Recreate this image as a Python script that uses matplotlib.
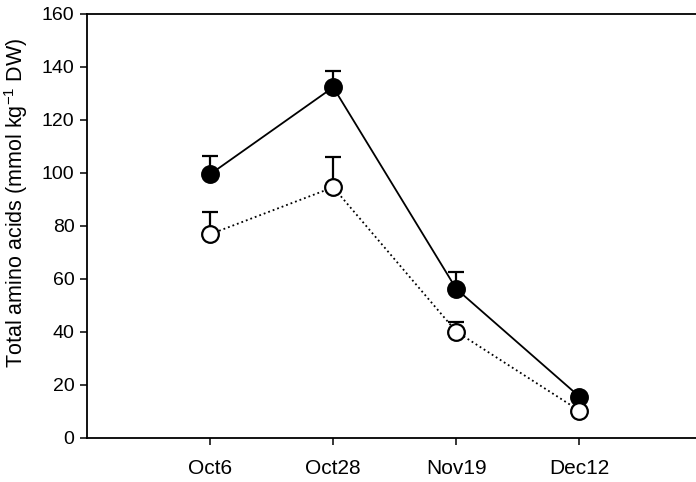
import matplotlib
matplotlib.use("Agg")
import matplotlib.pyplot as plt
import numpy as np

plt.rcParams['font.family'] = ['Liberation Sans', 'DejaVu Sans']
plt.rcParams['mathtext.default'] = 'regular'

# Sampling dates and total amino acid content (mean, upper SE)
dates = ["Oct6", "Oct28", "Nov19", "Dec12"]
filled_mean = [99.4, 132.2, 56.2, 15.6]
filled_se = [7.0, 6.0, 6.5, 1.0]
open_mean = [76.8, 94.5, 40.1, 10.3]
open_se = [8.5, 11.3, 3.7, 1.0]
y_ticks = [0, 20, 40, 60, 80, 100, 120, 140, 160]

x = np.arange(1, len(dates) + 1)

fig = plt.figure(figsize=(6.96, 4.82), dpi=100)
ax = fig.add_axes([87 / 696, 1 - 438 / 482, 615.5 / 696, (438 - 13.5) / 482])

common = dict(color='black', markersize=12, markeredgewidth=1.6,
              elinewidth=1.6, capsize=6, capthick=1.6, linewidth=1.3)

ax.errorbar(x, filled_mean, yerr=[np.zeros(len(x)), filled_se],
            fmt='o-', markerfacecolor='black', markeredgecolor='black', **common)
ax.errorbar(x, open_mean, yerr=[np.zeros(len(x)), open_se],
            fmt='o', linestyle=':', markerfacecolor='white',
            markeredgecolor='black', **common)

ax.set_xlim(0, 5)
ax.set_ylim(0, 160)
ax.set_xticks(x)
ax.set_xticklabels(dates)
ax.set_yticks(y_ticks)

ax.spines['right'].set_visible(False)
for side in ('left', 'bottom', 'top'):
    ax.spines[side].set_linewidth(1.3)

ax.tick_params(axis='both', direction='out', length=5, width=1.1, pad=4)
ax.tick_params(axis='y', labelsize=14)
ax.tick_params(axis='x', labelsize=15, pad=10)

ax.set_ylabel("Total amino acids (mmol kg$^{-1}$ DW)", fontsize=15.5)
ax.yaxis.set_label_coords(-0.093, 0.553)

fig.savefig("out.png", dpi=100)
